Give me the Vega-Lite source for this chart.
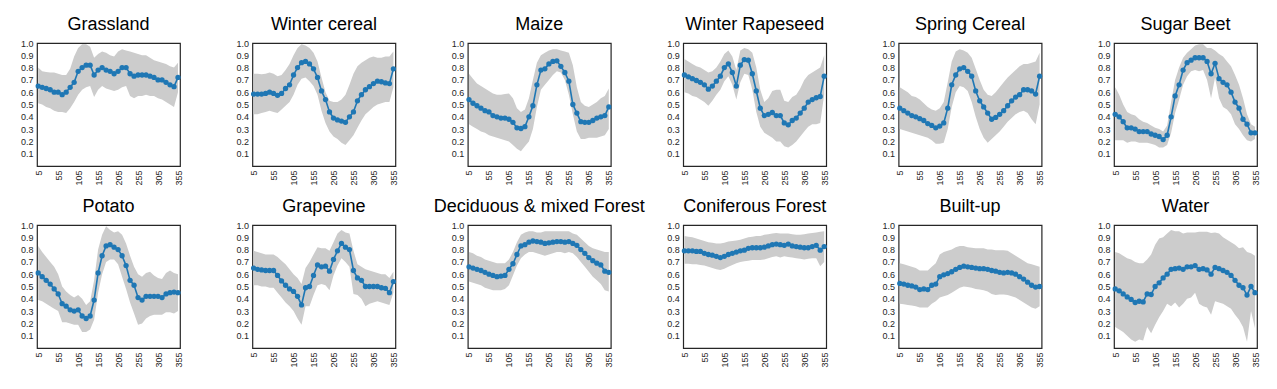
{
"$schema": "https://vega.github.io/schema/vega-lite/v6.json",
"autosize": "none",
"padding": {"left": 37, "top": 43, "right": 1240, "bottom": 346},
"background": "white",
"config": {
  "view": {"stroke": "#262626", "strokeWidth": 1.2},
  "axis": {"grid": false, "domain": false, "ticks": false, "labelFont": "Liberation Sans", "labelFontSize": 9, "labelColor": "#262626", "title": null, "labelOverlap": false, "labelFlush": false, "labelPadding": 4, "labelBound": false},
  "title": {"font": "Liberation Sans", "fontSize": 18, "fontWeight": "normal", "color": "#000000", "anchor": "middle", "frame": "group", "offset": 5, "baseline": "alphabetic"},
  "area": {"color": "#cccccc"},
  "line": {"color": "#1f77b4", "strokeWidth": 1.6},
  "point": {"color": "#1f77b4", "filled": true, "size": 28, "opacity": 1}
},
"columns": 6,
"spacing": {"row": 59, "column": 72.4},
"bounds": "flush",
"datasets": {
"grassland": [
{"t":5,"m":0.65,"lo":0.51,"hi":0.80},{"t":15,"m":0.64,"lo":0.50,"hi":0.77},{"t":25,"m":0.63,"lo":0.48,"hi":0.765},{"t":35,"m":0.62,"lo":0.47,"hi":0.76},{"t":45,"m":0.60,"lo":0.45,"hi":0.76},{"t":55,"m":0.60,"lo":0.44,"hi":0.75},{"t":65,"m":0.58,"lo":0.44,"hi":0.74},{"t":75,"m":0.60,"lo":0.43,"hi":0.74},{"t":85,"m":0.64,"lo":0.47,"hi":0.79},{"t":95,"m":0.68,"lo":0.52,"hi":0.89},{"t":105,"m":0.77,"lo":0.58,"hi":0.96},{"t":115,"m":0.80,"lo":0.62,"hi":0.99},{"t":125,"m":0.82,"lo":0.64,"hi":0.99},{"t":135,"m":0.82,"lo":0.65,"hi":0.97},{"t":145,"m":0.74,"lo":0.56,"hi":0.88},{"t":155,"m":0.78,"lo":0.62,"hi":0.91},{"t":165,"m":0.80,"lo":0.65,"hi":0.93},{"t":175,"m":0.78,"lo":0.63,"hi":0.92},{"t":185,"m":0.77,"lo":0.62,"hi":0.90},{"t":195,"m":0.75,"lo":0.61,"hi":0.89},{"t":205,"m":0.77,"lo":0.62,"hi":0.93},{"t":215,"m":0.80,"lo":0.64,"hi":0.95},{"t":225,"m":0.80,"lo":0.65,"hi":0.94},{"t":235,"m":0.75,"lo":0.57,"hi":0.93},{"t":245,"m":0.73,"lo":0.55,"hi":0.92},{"t":255,"m":0.74,"lo":0.57,"hi":0.91},{"t":265,"m":0.74,"lo":0.57,"hi":0.90},{"t":275,"m":0.74,"lo":0.58,"hi":0.90},{"t":285,"m":0.73,"lo":0.57,"hi":0.88},{"t":295,"m":0.72,"lo":0.57,"hi":0.86},{"t":305,"m":0.70,"lo":0.55,"hi":0.85},{"t":315,"m":0.70,"lo":0.54,"hi":0.84},{"t":325,"m":0.68,"lo":0.52,"hi":0.83},{"t":335,"m":0.66,"lo":0.50,"hi":0.81},{"t":345,"m":0.645,"lo":0.48,"hi":0.80},{"t":355,"m":0.72,"lo":0.60,"hi":0.84}
],
"wintercereal": [
{"t":5,"m":0.585,"lo":0.42,"hi":0.75},{"t":15,"m":0.585,"lo":0.42,"hi":0.75},{"t":25,"m":0.585,"lo":0.43,"hi":0.745},{"t":35,"m":0.59,"lo":0.44,"hi":0.75},{"t":45,"m":0.60,"lo":0.45,"hi":0.76},{"t":55,"m":0.59,"lo":0.44,"hi":0.75},{"t":65,"m":0.575,"lo":0.43,"hi":0.73},{"t":75,"m":0.59,"lo":0.46,"hi":0.74},{"t":85,"m":0.63,"lo":0.49,"hi":0.78},{"t":95,"m":0.66,"lo":0.52,"hi":0.83},{"t":105,"m":0.74,"lo":0.58,"hi":0.90},{"t":115,"m":0.80,"lo":0.66,"hi":0.96},{"t":125,"m":0.84,"lo":0.71,"hi":0.99},{"t":135,"m":0.85,"lo":0.72,"hi":0.98},{"t":145,"m":0.83,"lo":0.69,"hi":0.96},{"t":155,"m":0.79,"lo":0.65,"hi":0.92},{"t":165,"m":0.72,"lo":0.58,"hi":0.85},{"t":175,"m":0.61,"lo":0.45,"hi":0.72},{"t":185,"m":0.54,"lo":0.35,"hi":0.60},{"t":195,"m":0.44,"lo":0.28,"hi":0.53},{"t":205,"m":0.39,"lo":0.24,"hi":0.52},{"t":215,"m":0.375,"lo":0.22,"hi":0.52},{"t":225,"m":0.365,"lo":0.19,"hi":0.54},{"t":235,"m":0.355,"lo":0.17,"hi":0.58},{"t":245,"m":0.40,"lo":0.21,"hi":0.66},{"t":255,"m":0.44,"lo":0.25,"hi":0.75},{"t":265,"m":0.53,"lo":0.31,"hi":0.81},{"t":275,"m":0.58,"lo":0.37,"hi":0.84},{"t":285,"m":0.62,"lo":0.42,"hi":0.86},{"t":295,"m":0.645,"lo":0.45,"hi":0.88},{"t":305,"m":0.67,"lo":0.48,"hi":0.89},{"t":315,"m":0.69,"lo":0.50,"hi":0.88},{"t":325,"m":0.685,"lo":0.51,"hi":0.88},{"t":335,"m":0.675,"lo":0.52,"hi":0.89},{"t":345,"m":0.67,"lo":0.52,"hi":0.89},{"t":355,"m":0.79,"lo":0.64,"hi":0.93}
],
"maize": [
{"t":5,"m":0.54,"lo":0.34,"hi":0.75},{"t":15,"m":0.51,"lo":0.32,"hi":0.71},{"t":25,"m":0.49,"lo":0.30,"hi":0.67},{"t":35,"m":0.47,"lo":0.28,"hi":0.65},{"t":45,"m":0.45,"lo":0.27,"hi":0.63},{"t":55,"m":0.44,"lo":0.25,"hi":0.61},{"t":65,"m":0.41,"lo":0.24,"hi":0.59},{"t":75,"m":0.40,"lo":0.23,"hi":0.58},{"t":85,"m":0.39,"lo":0.22,"hi":0.58},{"t":95,"m":0.39,"lo":0.21,"hi":0.585},{"t":105,"m":0.38,"lo":0.20,"hi":0.59},{"t":115,"m":0.355,"lo":0.17,"hi":0.55},{"t":125,"m":0.31,"lo":0.14,"hi":0.47},{"t":135,"m":0.305,"lo":0.12,"hi":0.44},{"t":145,"m":0.32,"lo":0.16,"hi":0.46},{"t":155,"m":0.40,"lo":0.20,"hi":0.55},{"t":165,"m":0.49,"lo":0.30,"hi":0.70},{"t":175,"m":0.66,"lo":0.48,"hi":0.84},{"t":185,"m":0.78,"lo":0.62,"hi":0.90},{"t":195,"m":0.79,"lo":0.66,"hi":0.92},{"t":205,"m":0.83,"lo":0.70,"hi":0.94},{"t":215,"m":0.85,"lo":0.74,"hi":0.95},{"t":225,"m":0.855,"lo":0.77,"hi":0.95},{"t":235,"m":0.81,"lo":0.76,"hi":0.94},{"t":245,"m":0.76,"lo":0.70,"hi":0.93},{"t":255,"m":0.69,"lo":0.58,"hi":0.92},{"t":265,"m":0.50,"lo":0.42,"hi":0.82},{"t":275,"m":0.43,"lo":0.28,"hi":0.64},{"t":285,"m":0.36,"lo":0.22,"hi":0.52},{"t":295,"m":0.355,"lo":0.22,"hi":0.49},{"t":305,"m":0.355,"lo":0.23,"hi":0.48},{"t":315,"m":0.37,"lo":0.23,"hi":0.50},{"t":325,"m":0.39,"lo":0.23,"hi":0.52},{"t":335,"m":0.40,"lo":0.24,"hi":0.55},{"t":345,"m":0.41,"lo":0.25,"hi":0.57},{"t":355,"m":0.48,"lo":0.30,"hi":0.63}
],
"rapeseed": [
{"t":5,"m":0.74,"lo":0.60,"hi":0.87},{"t":15,"m":0.725,"lo":0.59,"hi":0.85},{"t":25,"m":0.71,"lo":0.57,"hi":0.83},{"t":35,"m":0.695,"lo":0.56,"hi":0.81},{"t":45,"m":0.68,"lo":0.54,"hi":0.80},{"t":55,"m":0.66,"lo":0.52,"hi":0.78},{"t":65,"m":0.625,"lo":0.49,"hi":0.76},{"t":75,"m":0.65,"lo":0.53,"hi":0.77},{"t":85,"m":0.69,"lo":0.58,"hi":0.80},{"t":95,"m":0.73,"lo":0.62,"hi":0.85},{"t":105,"m":0.80,"lo":0.69,"hi":0.91},{"t":115,"m":0.83,"lo":0.73,"hi":0.94},{"t":125,"m":0.76,"lo":0.66,"hi":0.89},{"t":135,"m":0.65,"lo":0.54,"hi":0.78},{"t":145,"m":0.82,"lo":0.68,"hi":0.94},{"t":155,"m":0.865,"lo":0.75,"hi":0.96},{"t":165,"m":0.86,"lo":0.74,"hi":0.95},{"t":175,"m":0.75,"lo":0.62,"hi":0.92},{"t":185,"m":0.61,"lo":0.44,"hi":0.80},{"t":195,"m":0.47,"lo":0.32,"hi":0.62},{"t":205,"m":0.41,"lo":0.27,"hi":0.52},{"t":215,"m":0.42,"lo":0.25,"hi":0.55},{"t":225,"m":0.435,"lo":0.23,"hi":0.61},{"t":235,"m":0.41,"lo":0.20,"hi":0.62},{"t":245,"m":0.41,"lo":0.20,"hi":0.62},{"t":255,"m":0.35,"lo":0.16,"hi":0.53},{"t":265,"m":0.335,"lo":0.15,"hi":0.52},{"t":275,"m":0.37,"lo":0.17,"hi":0.56},{"t":285,"m":0.39,"lo":0.20,"hi":0.58},{"t":295,"m":0.43,"lo":0.24,"hi":0.63},{"t":305,"m":0.47,"lo":0.28,"hi":0.70},{"t":315,"m":0.52,"lo":0.32,"hi":0.74},{"t":325,"m":0.54,"lo":0.34,"hi":0.76},{"t":335,"m":0.555,"lo":0.34,"hi":0.78},{"t":345,"m":0.565,"lo":0.35,"hi":0.80},{"t":355,"m":0.73,"lo":0.58,"hi":0.90}
],
"springcereal": [
{"t":5,"m":0.47,"lo":0.30,"hi":0.64},{"t":15,"m":0.45,"lo":0.29,"hi":0.62},{"t":25,"m":0.43,"lo":0.28,"hi":0.60},{"t":35,"m":0.41,"lo":0.27,"hi":0.57},{"t":45,"m":0.40,"lo":0.26,"hi":0.56},{"t":55,"m":0.385,"lo":0.25,"hi":0.54},{"t":65,"m":0.37,"lo":0.24,"hi":0.51},{"t":75,"m":0.345,"lo":0.23,"hi":0.48},{"t":85,"m":0.33,"lo":0.21,"hi":0.46},{"t":95,"m":0.31,"lo":0.18,"hi":0.45},{"t":105,"m":0.325,"lo":0.18,"hi":0.47},{"t":115,"m":0.35,"lo":0.19,"hi":0.52},{"t":125,"m":0.47,"lo":0.30,"hi":0.68},{"t":135,"m":0.66,"lo":0.48,"hi":0.85},{"t":145,"m":0.74,"lo":0.60,"hi":0.93},{"t":155,"m":0.79,"lo":0.65,"hi":0.95},{"t":165,"m":0.80,"lo":0.64,"hi":0.94},{"t":175,"m":0.77,"lo":0.61,"hi":0.92},{"t":185,"m":0.73,"lo":0.52,"hi":0.88},{"t":195,"m":0.61,"lo":0.40,"hi":0.79},{"t":205,"m":0.53,"lo":0.30,"hi":0.70},{"t":215,"m":0.48,"lo":0.23,"hi":0.62},{"t":225,"m":0.43,"lo":0.19,"hi":0.58},{"t":235,"m":0.38,"lo":0.22,"hi":0.57},{"t":245,"m":0.395,"lo":0.25,"hi":0.60},{"t":255,"m":0.42,"lo":0.28,"hi":0.64},{"t":265,"m":0.45,"lo":0.32,"hi":0.68},{"t":275,"m":0.49,"lo":0.36,"hi":0.72},{"t":285,"m":0.53,"lo":0.39,"hi":0.75},{"t":295,"m":0.56,"lo":0.42,"hi":0.78},{"t":305,"m":0.58,"lo":0.44,"hi":0.81},{"t":315,"m":0.62,"lo":0.45,"hi":0.83},{"t":325,"m":0.62,"lo":0.43,"hi":0.83},{"t":335,"m":0.61,"lo":0.38,"hi":0.84},{"t":345,"m":0.585,"lo":0.34,"hi":0.85},{"t":355,"m":0.73,"lo":0.50,"hi":0.92}
],
"sugarbeet": [
{"t":5,"m":0.42,"lo":0.21,"hi":0.64},{"t":15,"m":0.40,"lo":0.21,"hi":0.58},{"t":25,"m":0.36,"lo":0.21,"hi":0.50},{"t":35,"m":0.31,"lo":0.19,"hi":0.44},{"t":45,"m":0.31,"lo":0.20,"hi":0.42},{"t":55,"m":0.30,"lo":0.20,"hi":0.41},{"t":65,"m":0.28,"lo":0.19,"hi":0.38},{"t":75,"m":0.28,"lo":0.19,"hi":0.36},{"t":85,"m":0.28,"lo":0.19,"hi":0.35},{"t":95,"m":0.26,"lo":0.18,"hi":0.33},{"t":105,"m":0.25,"lo":0.17,"hi":0.31},{"t":115,"m":0.24,"lo":0.15,"hi":0.30},{"t":125,"m":0.215,"lo":0.15,"hi":0.28},{"t":135,"m":0.25,"lo":0.17,"hi":0.33},{"t":145,"m":0.40,"lo":0.27,"hi":0.52},{"t":155,"m":0.57,"lo":0.43,"hi":0.70},{"t":165,"m":0.66,"lo":0.54,"hi":0.80},{"t":175,"m":0.78,"lo":0.66,"hi":0.88},{"t":185,"m":0.84,"lo":0.73,"hi":0.92},{"t":195,"m":0.86,"lo":0.77,"hi":0.95},{"t":205,"m":0.88,"lo":0.78,"hi":0.98},{"t":215,"m":0.88,"lo":0.77,"hi":0.99},{"t":225,"m":0.88,"lo":0.78,"hi":0.99},{"t":235,"m":0.85,"lo":0.70,"hi":0.96},{"t":245,"m":0.75,"lo":0.55,"hi":0.96},{"t":255,"m":0.835,"lo":0.72,"hi":0.94},{"t":265,"m":0.71,"lo":0.55,"hi":0.91},{"t":275,"m":0.68,"lo":0.48,"hi":0.89},{"t":285,"m":0.66,"lo":0.46,"hi":0.85},{"t":295,"m":0.60,"lo":0.42,"hi":0.81},{"t":305,"m":0.52,"lo":0.34,"hi":0.74},{"t":315,"m":0.47,"lo":0.30,"hi":0.66},{"t":325,"m":0.38,"lo":0.25,"hi":0.55},{"t":335,"m":0.34,"lo":0.21,"hi":0.42},{"t":345,"m":0.27,"lo":0.20,"hi":0.34},{"t":355,"m":0.27,"lo":0.22,"hi":0.32}
],
"potato": [
{"t":5,"m":0.61,"lo":0.39,"hi":0.83},{"t":15,"m":0.58,"lo":0.38,"hi":0.78},{"t":25,"m":0.55,"lo":0.36,"hi":0.74},{"t":35,"m":0.52,"lo":0.34,"hi":0.70},{"t":45,"m":0.48,"lo":0.32,"hi":0.66},{"t":55,"m":0.44,"lo":0.30,"hi":0.60},{"t":65,"m":0.36,"lo":0.21,"hi":0.50},{"t":75,"m":0.34,"lo":0.21,"hi":0.46},{"t":85,"m":0.31,"lo":0.20,"hi":0.43},{"t":95,"m":0.30,"lo":0.19,"hi":0.41},{"t":105,"m":0.31,"lo":0.19,"hi":0.43},{"t":115,"m":0.26,"lo":0.13,"hi":0.40},{"t":125,"m":0.24,"lo":0.13,"hi":0.35},{"t":135,"m":0.26,"lo":0.15,"hi":0.38},{"t":145,"m":0.39,"lo":0.23,"hi":0.55},{"t":155,"m":0.61,"lo":0.45,"hi":0.80},{"t":165,"m":0.75,"lo":0.60,"hi":0.92},{"t":175,"m":0.83,"lo":0.70,"hi":0.99},{"t":185,"m":0.84,"lo":0.72,"hi":0.96},{"t":195,"m":0.82,"lo":0.72,"hi":0.94},{"t":205,"m":0.80,"lo":0.68,"hi":0.95},{"t":215,"m":0.75,"lo":0.58,"hi":0.92},{"t":225,"m":0.67,"lo":0.48,"hi":0.85},{"t":235,"m":0.55,"lo":0.37,"hi":0.75},{"t":245,"m":0.51,"lo":0.28,"hi":0.66},{"t":255,"m":0.41,"lo":0.19,"hi":0.60},{"t":265,"m":0.39,"lo":0.20,"hi":0.58},{"t":275,"m":0.42,"lo":0.24,"hi":0.61},{"t":285,"m":0.42,"lo":0.26,"hi":0.62},{"t":295,"m":0.42,"lo":0.27,"hi":0.59},{"t":305,"m":0.42,"lo":0.27,"hi":0.57},{"t":315,"m":0.41,"lo":0.27,"hi":0.56},{"t":325,"m":0.44,"lo":0.29,"hi":0.61},{"t":335,"m":0.45,"lo":0.29,"hi":0.63},{"t":345,"m":0.455,"lo":0.28,"hi":0.61},{"t":355,"m":0.45,"lo":0.30,"hi":0.60}
],
"grapevine": [
{"t":5,"m":0.65,"lo":0.51,"hi":0.79},{"t":15,"m":0.64,"lo":0.51,"hi":0.78},{"t":25,"m":0.635,"lo":0.50,"hi":0.77},{"t":35,"m":0.63,"lo":0.50,"hi":0.76},{"t":45,"m":0.63,"lo":0.49,"hi":0.76},{"t":55,"m":0.63,"lo":0.49,"hi":0.76},{"t":65,"m":0.59,"lo":0.45,"hi":0.74},{"t":75,"m":0.545,"lo":0.41,"hi":0.71},{"t":85,"m":0.51,"lo":0.37,"hi":0.68},{"t":95,"m":0.48,"lo":0.34,"hi":0.64},{"t":105,"m":0.46,"lo":0.30,"hi":0.60},{"t":115,"m":0.42,"lo":0.24,"hi":0.57},{"t":125,"m":0.35,"lo":0.19,"hi":0.52},{"t":135,"m":0.49,"lo":0.34,"hi":0.65},{"t":145,"m":0.50,"lo":0.34,"hi":0.70},{"t":155,"m":0.59,"lo":0.43,"hi":0.76},{"t":165,"m":0.675,"lo":0.51,"hi":0.82},{"t":175,"m":0.66,"lo":0.52,"hi":0.81},{"t":185,"m":0.665,"lo":0.51,"hi":0.81},{"t":195,"m":0.625,"lo":0.47,"hi":0.79},{"t":205,"m":0.72,"lo":0.59,"hi":0.86},{"t":215,"m":0.79,"lo":0.67,"hi":0.93},{"t":225,"m":0.85,"lo":0.73,"hi":0.96},{"t":235,"m":0.82,"lo":0.70,"hi":0.94},{"t":245,"m":0.80,"lo":0.66,"hi":0.93},{"t":255,"m":0.63,"lo":0.44,"hi":0.79},{"t":265,"m":0.57,"lo":0.43,"hi":0.68},{"t":275,"m":0.55,"lo":0.40,"hi":0.66},{"t":285,"m":0.50,"lo":0.34,"hi":0.64},{"t":295,"m":0.50,"lo":0.36,"hi":0.63},{"t":305,"m":0.50,"lo":0.37,"hi":0.62},{"t":315,"m":0.50,"lo":0.38,"hi":0.61},{"t":325,"m":0.49,"lo":0.37,"hi":0.60},{"t":335,"m":0.485,"lo":0.36,"hi":0.60},{"t":345,"m":0.45,"lo":0.35,"hi":0.57},{"t":355,"m":0.54,"lo":0.45,"hi":0.62}
],
"deciduous": [
{"t":5,"m":0.66,"lo":0.54,"hi":0.78},{"t":15,"m":0.65,"lo":0.53,"hi":0.77},{"t":25,"m":0.64,"lo":0.52,"hi":0.75},{"t":35,"m":0.63,"lo":0.51,"hi":0.74},{"t":45,"m":0.615,"lo":0.49,"hi":0.72},{"t":55,"m":0.60,"lo":0.48,"hi":0.71},{"t":65,"m":0.59,"lo":0.47,"hi":0.70},{"t":75,"m":0.58,"lo":0.47,"hi":0.69},{"t":85,"m":0.585,"lo":0.47,"hi":0.69},{"t":95,"m":0.59,"lo":0.48,"hi":0.69},{"t":105,"m":0.64,"lo":0.51,"hi":0.72},{"t":115,"m":0.685,"lo":0.59,"hi":0.78},{"t":125,"m":0.76,"lo":0.67,"hi":0.86},{"t":135,"m":0.83,"lo":0.73,"hi":0.92},{"t":145,"m":0.84,"lo":0.76,"hi":0.94},{"t":155,"m":0.86,"lo":0.78,"hi":0.95},{"t":165,"m":0.87,"lo":0.78,"hi":0.95},{"t":175,"m":0.865,"lo":0.77,"hi":0.94},{"t":185,"m":0.86,"lo":0.76,"hi":0.94},{"t":195,"m":0.85,"lo":0.75,"hi":0.95},{"t":205,"m":0.855,"lo":0.76,"hi":0.95},{"t":215,"m":0.86,"lo":0.77,"hi":0.95},{"t":225,"m":0.865,"lo":0.78,"hi":0.95},{"t":235,"m":0.865,"lo":0.78,"hi":0.95},{"t":245,"m":0.86,"lo":0.77,"hi":0.95},{"t":255,"m":0.865,"lo":0.78,"hi":0.95},{"t":265,"m":0.85,"lo":0.77,"hi":0.93},{"t":275,"m":0.835,"lo":0.74,"hi":0.92},{"t":285,"m":0.80,"lo":0.70,"hi":0.89},{"t":295,"m":0.77,"lo":0.66,"hi":0.86},{"t":305,"m":0.735,"lo":0.62,"hi":0.83},{"t":315,"m":0.71,"lo":0.58,"hi":0.81},{"t":325,"m":0.69,"lo":0.55,"hi":0.80},{"t":335,"m":0.675,"lo":0.52,"hi":0.79},{"t":345,"m":0.625,"lo":0.47,"hi":0.78},{"t":355,"m":0.615,"lo":0.46,"hi":0.78}
],
"coniferous": [
{"t":5,"m":0.79,"lo":0.685,"hi":0.91},{"t":15,"m":0.79,"lo":0.685,"hi":0.905},{"t":25,"m":0.79,"lo":0.68,"hi":0.90},{"t":35,"m":0.785,"lo":0.68,"hi":0.89},{"t":45,"m":0.785,"lo":0.675,"hi":0.88},{"t":55,"m":0.77,"lo":0.67,"hi":0.87},{"t":65,"m":0.76,"lo":0.66,"hi":0.86},{"t":75,"m":0.755,"lo":0.65,"hi":0.855},{"t":85,"m":0.745,"lo":0.64,"hi":0.85},{"t":95,"m":0.735,"lo":0.635,"hi":0.85},{"t":105,"m":0.745,"lo":0.645,"hi":0.855},{"t":115,"m":0.76,"lo":0.66,"hi":0.865},{"t":125,"m":0.77,"lo":0.675,"hi":0.87},{"t":135,"m":0.78,"lo":0.69,"hi":0.875},{"t":145,"m":0.79,"lo":0.70,"hi":0.88},{"t":155,"m":0.795,"lo":0.705,"hi":0.89},{"t":165,"m":0.81,"lo":0.71,"hi":0.90},{"t":175,"m":0.815,"lo":0.715,"hi":0.905},{"t":185,"m":0.815,"lo":0.715,"hi":0.91},{"t":195,"m":0.815,"lo":0.715,"hi":0.91},{"t":205,"m":0.82,"lo":0.72,"hi":0.92},{"t":215,"m":0.83,"lo":0.73,"hi":0.925},{"t":225,"m":0.84,"lo":0.74,"hi":0.93},{"t":235,"m":0.845,"lo":0.745,"hi":0.935},{"t":245,"m":0.84,"lo":0.735,"hi":0.93},{"t":255,"m":0.835,"lo":0.745,"hi":0.93},{"t":265,"m":0.845,"lo":0.74,"hi":0.93},{"t":275,"m":0.83,"lo":0.735,"hi":0.925},{"t":285,"m":0.825,"lo":0.73,"hi":0.92},{"t":295,"m":0.82,"lo":0.725,"hi":0.92},{"t":305,"m":0.815,"lo":0.72,"hi":0.925},{"t":315,"m":0.815,"lo":0.725,"hi":0.93},{"t":325,"m":0.825,"lo":0.73,"hi":0.935},{"t":335,"m":0.835,"lo":0.73,"hi":0.94},{"t":345,"m":0.795,"lo":0.665,"hi":0.945},{"t":355,"m":0.825,"lo":0.70,"hi":0.95}
],
"builtup": [
{"t":5,"m":0.525,"lo":0.36,"hi":0.69},{"t":15,"m":0.52,"lo":0.355,"hi":0.68},{"t":25,"m":0.51,"lo":0.35,"hi":0.67},{"t":35,"m":0.505,"lo":0.345,"hi":0.66},{"t":45,"m":0.495,"lo":0.34,"hi":0.65},{"t":55,"m":0.475,"lo":0.33,"hi":0.63},{"t":65,"m":0.48,"lo":0.33,"hi":0.63},{"t":75,"m":0.475,"lo":0.33,"hi":0.63},{"t":85,"m":0.51,"lo":0.36,"hi":0.66},{"t":95,"m":0.52,"lo":0.38,"hi":0.69},{"t":105,"m":0.58,"lo":0.41,"hi":0.76},{"t":115,"m":0.595,"lo":0.42,"hi":0.78},{"t":125,"m":0.605,"lo":0.43,"hi":0.79},{"t":135,"m":0.62,"lo":0.45,"hi":0.80},{"t":145,"m":0.64,"lo":0.47,"hi":0.82},{"t":155,"m":0.655,"lo":0.49,"hi":0.83},{"t":165,"m":0.665,"lo":0.50,"hi":0.83},{"t":175,"m":0.66,"lo":0.495,"hi":0.82},{"t":185,"m":0.655,"lo":0.49,"hi":0.815},{"t":195,"m":0.65,"lo":0.48,"hi":0.81},{"t":205,"m":0.645,"lo":0.475,"hi":0.81},{"t":215,"m":0.645,"lo":0.47,"hi":0.81},{"t":225,"m":0.64,"lo":0.46,"hi":0.80},{"t":235,"m":0.63,"lo":0.44,"hi":0.80},{"t":245,"m":0.625,"lo":0.43,"hi":0.795},{"t":255,"m":0.615,"lo":0.435,"hi":0.795},{"t":265,"m":0.61,"lo":0.435,"hi":0.795},{"t":275,"m":0.615,"lo":0.43,"hi":0.79},{"t":285,"m":0.61,"lo":0.42,"hi":0.77},{"t":295,"m":0.60,"lo":0.41,"hi":0.75},{"t":305,"m":0.58,"lo":0.39,"hi":0.73},{"t":315,"m":0.56,"lo":0.37,"hi":0.71},{"t":325,"m":0.535,"lo":0.35,"hi":0.69},{"t":335,"m":0.51,"lo":0.33,"hi":0.68},{"t":345,"m":0.495,"lo":0.32,"hi":0.67},{"t":355,"m":0.50,"lo":0.34,"hi":0.66}
],
"water": [
{"t":5,"m":0.48,"lo":0.17,"hi":0.78},{"t":15,"m":0.465,"lo":0.15,"hi":0.77},{"t":25,"m":0.44,"lo":0.13,"hi":0.75},{"t":35,"m":0.415,"lo":0.10,"hi":0.73},{"t":45,"m":0.395,"lo":0.07,"hi":0.72},{"t":55,"m":0.37,"lo":0.05,"hi":0.70},{"t":65,"m":0.38,"lo":0.07,"hi":0.69},{"t":75,"m":0.375,"lo":0.06,"hi":0.69},{"t":85,"m":0.44,"lo":0.17,"hi":0.72},{"t":95,"m":0.435,"lo":0.12,"hi":0.76},{"t":105,"m":0.50,"lo":0.19,"hi":0.84},{"t":115,"m":0.53,"lo":0.25,"hi":0.89},{"t":125,"m":0.57,"lo":0.30,"hi":0.90},{"t":135,"m":0.60,"lo":0.36,"hi":0.93},{"t":145,"m":0.64,"lo":0.34,"hi":0.96},{"t":155,"m":0.645,"lo":0.37,"hi":0.95},{"t":165,"m":0.65,"lo":0.33,"hi":0.95},{"t":175,"m":0.64,"lo":0.36,"hi":0.93},{"t":185,"m":0.66,"lo":0.40,"hi":0.94},{"t":195,"m":0.66,"lo":0.41,"hi":0.94},{"t":205,"m":0.67,"lo":0.45,"hi":0.94},{"t":215,"m":0.64,"lo":0.36,"hi":0.945},{"t":225,"m":0.645,"lo":0.34,"hi":0.945},{"t":235,"m":0.635,"lo":0.33,"hi":0.945},{"t":245,"m":0.60,"lo":0.27,"hi":0.935},{"t":255,"m":0.655,"lo":0.38,"hi":0.94},{"t":265,"m":0.645,"lo":0.37,"hi":0.93},{"t":275,"m":0.63,"lo":0.36,"hi":0.90},{"t":285,"m":0.615,"lo":0.34,"hi":0.88},{"t":295,"m":0.59,"lo":0.32,"hi":0.86},{"t":305,"m":0.55,"lo":0.27,"hi":0.84},{"t":315,"m":0.51,"lo":0.23,"hi":0.81},{"t":325,"m":0.49,"lo":0.17,"hi":0.82},{"t":335,"m":0.43,"lo":0.05,"hi":0.78},{"t":345,"m":0.50,"lo":0.30,"hi":0.77},{"t":355,"m":0.45,"lo":0.16,"hi":0.75}
]
},
"concat": [
{"title": "Grassland", "data": {"name": "grassland"}, "width": 143, "height": 123,
 "encoding": {"x": {"field": "t", "type": "quantitative", "scale": {"domain": [2, 360], "nice": false, "zero": false}, "axis": {"values": [5,55,105,155,205,255,305,355], "tickCount": 20, "labelAngle": -90}}},
 "layer": [
  {"mark": "area", "encoding": {"y": {"field": "lo", "type": "quantitative", "scale": {"domain": [0, 1], "nice": false}, "axis": {"values": [0.1,0.2,0.3,0.4,0.5,0.6,0.7,0.8,0.9,1.0], "tickCount": 20, "format": ".1f"}}, "y2": {"field": "hi"}}},
  {"mark": "line", "encoding": {"y": {"field": "m", "type": "quantitative"}}},
  {"mark": "point", "encoding": {"y": {"field": "m", "type": "quantitative"}}}
 ]},
{"title": "Winter cereal", "data": {"name": "wintercereal"}, "width": 143, "height": 123,
 "encoding": {"x": {"field": "t", "type": "quantitative", "scale": {"domain": [2, 360], "nice": false, "zero": false}, "axis": {"values": [5,55,105,155,205,255,305,355], "tickCount": 20, "labelAngle": -90}}},
 "layer": [
  {"mark": "area", "encoding": {"y": {"field": "lo", "type": "quantitative", "scale": {"domain": [0, 1], "nice": false}, "axis": {"values": [0.1,0.2,0.3,0.4,0.5,0.6,0.7,0.8,0.9,1.0], "tickCount": 20, "format": ".1f"}}, "y2": {"field": "hi"}}},
  {"mark": "line", "encoding": {"y": {"field": "m", "type": "quantitative"}}},
  {"mark": "point", "encoding": {"y": {"field": "m", "type": "quantitative"}}}
 ]},
{"title": "Maize", "data": {"name": "maize"}, "width": 143, "height": 123,
 "encoding": {"x": {"field": "t", "type": "quantitative", "scale": {"domain": [2, 360], "nice": false, "zero": false}, "axis": {"values": [5,55,105,155,205,255,305,355], "tickCount": 20, "labelAngle": -90}}},
 "layer": [
  {"mark": "area", "encoding": {"y": {"field": "lo", "type": "quantitative", "scale": {"domain": [0, 1], "nice": false}, "axis": {"values": [0.1,0.2,0.3,0.4,0.5,0.6,0.7,0.8,0.9,1.0], "tickCount": 20, "format": ".1f"}}, "y2": {"field": "hi"}}},
  {"mark": "line", "encoding": {"y": {"field": "m", "type": "quantitative"}}},
  {"mark": "point", "encoding": {"y": {"field": "m", "type": "quantitative"}}}
 ]},
{"title": "Winter Rapeseed", "data": {"name": "rapeseed"}, "width": 143, "height": 123,
 "encoding": {"x": {"field": "t", "type": "quantitative", "scale": {"domain": [2, 360], "nice": false, "zero": false}, "axis": {"values": [5,55,105,155,205,255,305,355], "tickCount": 20, "labelAngle": -90}}},
 "layer": [
  {"mark": "area", "encoding": {"y": {"field": "lo", "type": "quantitative", "scale": {"domain": [0, 1], "nice": false}, "axis": {"values": [0.1,0.2,0.3,0.4,0.5,0.6,0.7,0.8,0.9,1.0], "tickCount": 20, "format": ".1f"}}, "y2": {"field": "hi"}}},
  {"mark": "line", "encoding": {"y": {"field": "m", "type": "quantitative"}}},
  {"mark": "point", "encoding": {"y": {"field": "m", "type": "quantitative"}}}
 ]},
{"title": "Spring Cereal", "data": {"name": "springcereal"}, "width": 143, "height": 123,
 "encoding": {"x": {"field": "t", "type": "quantitative", "scale": {"domain": [2, 360], "nice": false, "zero": false}, "axis": {"values": [5,55,105,155,205,255,305,355], "tickCount": 20, "labelAngle": -90}}},
 "layer": [
  {"mark": "area", "encoding": {"y": {"field": "lo", "type": "quantitative", "scale": {"domain": [0, 1], "nice": false}, "axis": {"values": [0.1,0.2,0.3,0.4,0.5,0.6,0.7,0.8,0.9,1.0], "tickCount": 20, "format": ".1f"}}, "y2": {"field": "hi"}}},
  {"mark": "line", "encoding": {"y": {"field": "m", "type": "quantitative"}}},
  {"mark": "point", "encoding": {"y": {"field": "m", "type": "quantitative"}}}
 ]},
{"title": "Sugar Beet", "data": {"name": "sugarbeet"}, "width": 143, "height": 123,
 "encoding": {"x": {"field": "t", "type": "quantitative", "scale": {"domain": [2, 360], "nice": false, "zero": false}, "axis": {"values": [5,55,105,155,205,255,305,355], "tickCount": 20, "labelAngle": -90}}},
 "layer": [
  {"mark": "area", "encoding": {"y": {"field": "lo", "type": "quantitative", "scale": {"domain": [0, 1], "nice": false}, "axis": {"values": [0.1,0.2,0.3,0.4,0.5,0.6,0.7,0.8,0.9,1.0], "tickCount": 20, "format": ".1f"}}, "y2": {"field": "hi"}}},
  {"mark": "line", "encoding": {"y": {"field": "m", "type": "quantitative"}}},
  {"mark": "point", "encoding": {"y": {"field": "m", "type": "quantitative"}}}
 ]},
{"title": "Potato", "data": {"name": "potato"}, "width": 143, "height": 123,
 "encoding": {"x": {"field": "t", "type": "quantitative", "scale": {"domain": [2, 360], "nice": false, "zero": false}, "axis": {"values": [5,55,105,155,205,255,305,355], "tickCount": 20, "labelAngle": -90}}},
 "layer": [
  {"mark": "area", "encoding": {"y": {"field": "lo", "type": "quantitative", "scale": {"domain": [0, 1], "nice": false}, "axis": {"values": [0.1,0.2,0.3,0.4,0.5,0.6,0.7,0.8,0.9,1.0], "tickCount": 20, "format": ".1f"}}, "y2": {"field": "hi"}}},
  {"mark": "line", "encoding": {"y": {"field": "m", "type": "quantitative"}}},
  {"mark": "point", "encoding": {"y": {"field": "m", "type": "quantitative"}}}
 ]},
{"title": "Grapevine", "data": {"name": "grapevine"}, "width": 143, "height": 123,
 "encoding": {"x": {"field": "t", "type": "quantitative", "scale": {"domain": [2, 360], "nice": false, "zero": false}, "axis": {"values": [5,55,105,155,205,255,305,355], "tickCount": 20, "labelAngle": -90}}},
 "layer": [
  {"mark": "area", "encoding": {"y": {"field": "lo", "type": "quantitative", "scale": {"domain": [0, 1], "nice": false}, "axis": {"values": [0.1,0.2,0.3,0.4,0.5,0.6,0.7,0.8,0.9,1.0], "tickCount": 20, "format": ".1f"}}, "y2": {"field": "hi"}}},
  {"mark": "line", "encoding": {"y": {"field": "m", "type": "quantitative"}}},
  {"mark": "point", "encoding": {"y": {"field": "m", "type": "quantitative"}}}
 ]},
{"title": "Deciduous & mixed Forest", "data": {"name": "deciduous"}, "width": 143, "height": 123,
 "encoding": {"x": {"field": "t", "type": "quantitative", "scale": {"domain": [2, 360], "nice": false, "zero": false}, "axis": {"values": [5,55,105,155,205,255,305,355], "tickCount": 20, "labelAngle": -90}}},
 "layer": [
  {"mark": "area", "encoding": {"y": {"field": "lo", "type": "quantitative", "scale": {"domain": [0, 1], "nice": false}, "axis": {"values": [0.1,0.2,0.3,0.4,0.5,0.6,0.7,0.8,0.9,1.0], "tickCount": 20, "format": ".1f"}}, "y2": {"field": "hi"}}},
  {"mark": "line", "encoding": {"y": {"field": "m", "type": "quantitative"}}},
  {"mark": "point", "encoding": {"y": {"field": "m", "type": "quantitative"}}}
 ]},
{"title": "Coniferous Forest", "data": {"name": "coniferous"}, "width": 143, "height": 123,
 "encoding": {"x": {"field": "t", "type": "quantitative", "scale": {"domain": [2, 360], "nice": false, "zero": false}, "axis": {"values": [5,55,105,155,205,255,305,355], "tickCount": 20, "labelAngle": -90}}},
 "layer": [
  {"mark": "area", "encoding": {"y": {"field": "lo", "type": "quantitative", "scale": {"domain": [0, 1], "nice": false}, "axis": {"values": [0.1,0.2,0.3,0.4,0.5,0.6,0.7,0.8,0.9,1.0], "tickCount": 20, "format": ".1f"}}, "y2": {"field": "hi"}}},
  {"mark": "line", "encoding": {"y": {"field": "m", "type": "quantitative"}}},
  {"mark": "point", "encoding": {"y": {"field": "m", "type": "quantitative"}}}
 ]},
{"title": "Built-up", "data": {"name": "builtup"}, "width": 143, "height": 123,
 "encoding": {"x": {"field": "t", "type": "quantitative", "scale": {"domain": [2, 360], "nice": false, "zero": false}, "axis": {"values": [5,55,105,155,205,255,305,355], "tickCount": 20, "labelAngle": -90}}},
 "layer": [
  {"mark": "area", "encoding": {"y": {"field": "lo", "type": "quantitative", "scale": {"domain": [0, 1], "nice": false}, "axis": {"values": [0.1,0.2,0.3,0.4,0.5,0.6,0.7,0.8,0.9,1.0], "tickCount": 20, "format": ".1f"}}, "y2": {"field": "hi"}}},
  {"mark": "line", "encoding": {"y": {"field": "m", "type": "quantitative"}}},
  {"mark": "point", "encoding": {"y": {"field": "m", "type": "quantitative"}}}
 ]},
{"title": "Water", "data": {"name": "water"}, "width": 143, "height": 123,
 "encoding": {"x": {"field": "t", "type": "quantitative", "scale": {"domain": [2, 360], "nice": false, "zero": false}, "axis": {"values": [5,55,105,155,205,255,305,355], "tickCount": 20, "labelAngle": -90}}},
 "layer": [
  {"mark": "area", "encoding": {"y": {"field": "lo", "type": "quantitative", "scale": {"domain": [0, 1], "nice": false}, "axis": {"values": [0.1,0.2,0.3,0.4,0.5,0.6,0.7,0.8,0.9,1.0], "tickCount": 20, "format": ".1f"}}, "y2": {"field": "hi"}}},
  {"mark": "line", "encoding": {"y": {"field": "m", "type": "quantitative"}}},
  {"mark": "point", "encoding": {"y": {"field": "m", "type": "quantitative"}}}
 ]}
]
}
